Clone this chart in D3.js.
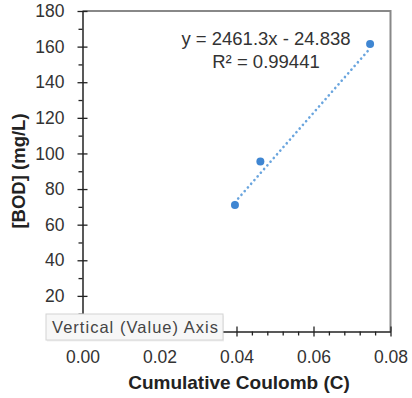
<!doctype html>
<html>
<head>
<script src="https://cdn.jsdelivr.net/npm/d3@7"></script>
<style>
  body { margin: 0; background: #fff; }
  text { font-family: "Liberation Sans", Arial, sans-serif; }
</style>
</head>
<body>
<svg width="412" height="398"></svg>
<script>
// data points (cumulative coulomb, BOD)
var coulomb = [0.0396, 0.0462, 0.0747];
var bod = [71, 95.5, 161.5];

// linear trendline shown on the chart
var slope = 2461.3, intercept = -24.838;
var eqLabel = "y = 2461.3x - 24.838";
var r2Label = "R\u00B2 = 0.99441";

var xTicks = [0, 0.02, 0.04, 0.06, 0.08];
var yTicks = [0, 20, 40, 60, 80, 100, 120, 140, 160, 180];

var svg = d3.select("svg");
var mLeft = 82.5, mRight = 390.5, mTop = 11, mBottom = 331.5;

var x = d3.scaleLinear().domain([0, 0.08]).range([mLeft, mRight]);
var y = d3.scaleLinear().domain([0, 180]).range([mBottom, mTop]);

// plot border (top + right)
svg.append("path")
  .attr("d", "M" + mLeft + "," + mTop + "H" + mRight + "V" + mBottom)
  .style("fill", "none").style("stroke", "#888").style("stroke-width", 2);

// y minor ticks
svg.append("g")
  .attr("transform", "translate(" + mLeft + ",0)")
  .call(d3.axisLeft(y).tickValues(d3.range(10, 180, 20)).tickSize(4).tickFormat(""))
  .call(function(g) { g.select(".domain").remove(); })
  .selectAll("line").style("stroke", "#222").style("stroke-width", 1.3);

// y axis
var gy = svg.append("g")
  .attr("transform", "translate(" + mLeft + ",0)")
  .call(d3.axisLeft(y).tickValues(yTicks).tickSize(5).tickSizeOuter(0).tickPadding(13));
gy.selectAll(".tick line").attr("x1", 5).style("stroke", "#222").style("stroke-width", 1.3);
gy.select(".domain").style("stroke", "#222").style("stroke-width", 1.5);
gy.selectAll(".tick text").style("font-size", "17.5px").style("fill", "#333")
  .text(function(d) { return d === 0 ? "" : d; });

// x minor ticks
svg.append("g")
  .attr("transform", "translate(0," + mBottom + ")")
  .call(d3.axisBottom(x).tickValues(d3.range(0.004, 0.08, 0.004).filter(function(v) {
      return Math.abs(v / 0.02 - Math.round(v / 0.02)) > 0.01; }))
    .tickSize(4).tickFormat(""))
  .call(function(g) { g.select(".domain").remove(); })
  .selectAll("line").style("stroke", "#222").style("stroke-width", 1.3);

// x axis
var gx = svg.append("g")
  .attr("transform", "translate(0," + mBottom + ")")
  .call(d3.axisBottom(x).tickValues(xTicks).tickSize(5).tickSizeOuter(0).tickPadding(14)
    .tickFormat(d3.format(".2f")));
gx.selectAll(".tick line").attr("y1", -5).style("stroke", "#222").style("stroke-width", 1.3);
gx.select(".domain").style("stroke", "#222").style("stroke-width", 1.5);
gx.selectAll(".tick text").style("font-size", "17.5px").style("fill", "#333");

// trendline
var x0 = d3.min(coulomb), x1 = d3.max(coulomb);
svg.append("line")
  .attr("x1", x(x0)).attr("y1", y(slope * x0 + intercept))
  .attr("x2", x(x1)).attr("y2", y(slope * x1 + intercept))
  .style("stroke", "#6aa5de").style("stroke-width", 2.6)
  .style("stroke-linecap", "round").style("stroke-dasharray", "0.1 4.8");

// points
svg.append("g").selectAll("circle")
  .data(coulomb)
  .enter().append("circle")
  .attr("cx", function(d) { return x(d); })
  .attr("cy", function(d, i) { return y(bod[i]); })
  .attr("r", 4)
  .style("fill", "#3f86d2");

// equation
var eq = svg.append("text").attr("x", 266).attr("y", 45)
  .style("text-anchor", "middle").style("font-size", "18.5px").style("fill", "#333");
eq.append("tspan").attr("x", 266).text(eqLabel);
eq.append("tspan").attr("x", 266).attr("dy", 23).text(r2Label);

// axis titles
svg.append("text")
  .attr("transform", "translate(25,171) rotate(-90)")
  .style("text-anchor", "middle").style("font-size", "18.5px").style("font-weight", "bold")
  .style("fill", "#222").text("[BOD] (mg/L)");
svg.append("text")
  .attr("x", 239).attr("y", 389)
  .style("text-anchor", "middle").style("font-size", "19px").style("font-weight", "bold")
  .style("fill", "#222").text("Cumulative Coulomb (C)");

// hover tooltip box
var tip = svg.append("g").attr("transform", "translate(46,314)");
tip.append("rect").attr("x", 1).attr("y", 1.5).attr("width", 177).attr("height", 26)
  .style("fill", "#000").style("opacity", 0.06);
tip.append("rect").attr("width", 177).attr("height", 26)
  .style("fill", "#f7f7f7").style("stroke", "#d4d4d4");
tip.append("text").attr("x", 6).attr("y", 19)
  .attr("textLength", 166).attr("lengthAdjust", "spacing")
  .style("font-size", "16.5px").style("fill", "#444").text("Vertical (Value) Axis");
</script>
</body>
</html>
